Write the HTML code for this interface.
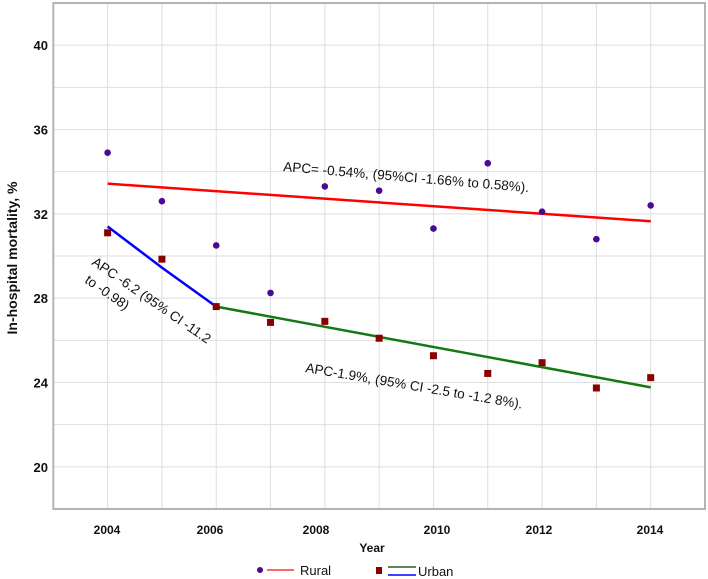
<!DOCTYPE html>
<html><head><meta charset="utf-8"><style>
html,body{margin:0;padding:0;background:#fff;}
svg{display:block;font-family:"Liberation Sans",sans-serif;}
</style></head><body>
<svg id="chart" width="708" height="579" viewBox="0 0 708 579" xmlns="http://www.w3.org/2000/svg"></svg>
<script>
const years = [2004,2005,2006,2007,2008,2009,2010,2011,2012,2013,2014];
const ruralValues = [34.9,32.6,30.5,28.25,33.3,33.1,31.3,34.4,32.1,30.8,32.4];
const urbanValues = [31.1,29.85,27.6,26.85,26.9,26.1,25.27,24.43,24.94,23.74,24.23];
const ruralTrendYears = [2004,2014];
const ruralTrendValues = [33.43,31.65];
const urbanTrend1Years = [2004,2005,2006];
const urbanTrend1Values = [31.4,29.45,27.6];
const urbanTrend2Years = [2006,2014];
const urbanTrend2Values = [27.6,23.77];
const yTickLabels = [20,24,28,32,36,40];
const xTickLabels = [2004,2006,2008,2010,2012,2014];

const NS='http://www.w3.org/2000/svg';
const svg=document.getElementById('chart');
const L=53.3,R=705,T=3,B=509;
const xMin=2003,xMax=2015,yMin=18,yMax=42;
const xs=v=>L+(v-xMin)/(xMax-xMin)*(R-L);
const ys=v=>B-(v-yMin)/(yMax-yMin)*(B-T);
function mk(tag,attrs,parent){const e=document.createElementNS(NS,tag);for(const k in attrs)e.setAttribute(k,attrs[k]);(parent||svg).appendChild(e);return e;}

const grid=mk('g',{});


for(let y=2003;y<=2015;y++){mk('line',{x1:xs(y),x2:xs(y),y1:T,y2:B,stroke:'#dedede','stroke-width':1},grid);}
for(let v=18;v<=42;v+=2){mk('line',{x1:L,x2:R,y1:ys(v),y2:ys(v),stroke:'#dedede','stroke-width':1},grid);}
const frame=mk('rect',{x:L,y:T,width:R-L,height:B-T,fill:'none',stroke:'#b4b4b4','stroke-width':2});



yTickLabels.forEach(v=>{const t=mk('text',{x:48,y:ys(v)+5,'text-anchor':'end','font-size':13,'font-weight':'bold',fill:'#111'});t.textContent=v;

});
const xLabelPos=[107,210,316,437,539,650];
xTickLabels.forEach((v,i)=>{const t=mk('text',{x:xLabelPos[i],y:534,'text-anchor':'middle','font-size':12,'font-weight':'bold',fill:'#111'});t.textContent=v;

});
const xt=mk('text',{x:372,y:552,'text-anchor':'middle','font-size':12,'font-weight':'bold',fill:'#111'});xt.textContent='Year';


const yt=mk('text',{x:0,y:0,transform:'translate(17,258) rotate(-90)','text-anchor':'middle','font-size':14,'font-weight':'bold',fill:'#111'});yt.textContent='In-hospital mortality, %';



function line(xv,yv,color,name){const p=mk('polyline',{points:xv.map((x,i)=>xs(x)+','+ys(yv[i])).join(' '),fill:'none',stroke:color,'stroke-width':2.5});

}
line(ruralTrendYears,ruralTrendValues,'#ff0000','rural-trend-line');
line(urbanTrend1Years,urbanTrend1Values,'#0000ff','urban-trend-2004-2006');
line(urbanTrend2Years,urbanTrend2Values,'#137a13','urban-trend-2006-2014');

years.forEach((y,i)=>{const c=mk('circle',{cx:xs(y),cy:ys(ruralValues[i]),r:3.3,fill:'#4b0a96'});


const s=mk('rect',{x:xs(y)-3.5,y:ys(urbanValues[i])-3.5,width:7,height:7,fill:'#8b0000'});

});

function ann(txt,x,y,ang,name){const t=mk('text',{x:0,y:0,transform:`translate(${x},${y}) rotate(${ang})`,'font-size':13.5,fill:'#111'});t.textContent=txt;

}
ann('APC= -0.54%, (95%CI -1.66% to 0.58%).',283,171,4.9,'rural-apc-annotation');
ann('APC-1.9%, (95% CI -2.5 to -1.2 8%).',305,372,9.6,'urban-apc-annotation');
ann('APC -6.2 (95% CI -11.2',91,264,34.6,'urban-early-apc-annotation');
ann('to -0.98)',84,282,34.6,'urban-early-apc-annotation-line2');

const lg=mk('g',{});


mk('circle',{cx:260,cy:570,r:3,fill:'#4b0a96'},lg);
mk('line',{x1:267,x2:294,y1:570,y2:570,stroke:'#ff3333','stroke-width':1.5},lg);
const t1=mk('text',{x:300,y:575,'font-size':13,fill:'#111'},lg);t1.textContent='Rural';
mk('rect',{x:376,y:567,width:6,height:7,fill:'#8b0000'},lg);
mk('line',{x1:388,x2:416,y1:567,y2:567,stroke:'#2a5a2a','stroke-width':1.5},lg);
mk('line',{x1:388,x2:416,y1:575,y2:575,stroke:'#0000ff','stroke-width':1.5},lg);
const t2=mk('text',{x:418,y:576,'font-size':13,fill:'#111'},lg);t2.textContent='Urban';
</script>
</body></html>
